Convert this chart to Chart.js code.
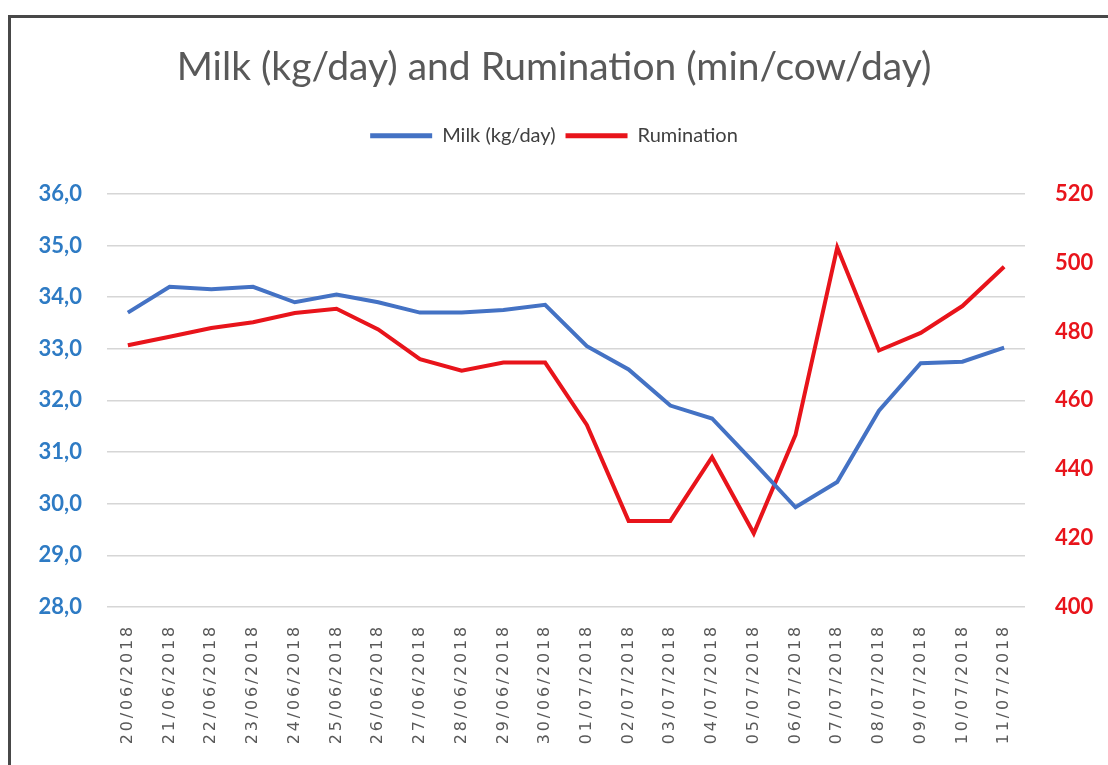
<!DOCTYPE html>
<html>
<head>
<meta charset="utf-8">
<script src="https://cdn.jsdelivr.net/npm/chart.js@4"></script>
<style>
  body { margin: 0; background: #fff; }
  #frame { position: absolute; left: 8px; top: 15px; width: 1100px; height: 750px;
           border-top: 3px solid #484848; border-left: 3px solid #484848; pointer-events: none; }
  #chart { position: absolute; left: 0; top: 0; }
</style>
</head>
<body>
<canvas id="chart" width="1108" height="765"></canvas>
<div id="frame"></div>
<script>
const dates = ['20/06/2018', '21/06/2018', '22/06/2018', '23/06/2018', '24/06/2018', '25/06/2018',
  '26/06/2018', '27/06/2018', '28/06/2018', '29/06/2018', '30/06/2018', '01/07/2018', '02/07/2018',
  '03/07/2018', '04/07/2018', '05/07/2018', '06/07/2018', '07/07/2018', '08/07/2018', '09/07/2018',
  '10/07/2018', '11/07/2018'];
const milk = [33.7, 34.2, 34.15, 34.2, 33.9, 34.05, 33.9, 33.7, 33.7, 33.75, 33.85,
  33.05, 32.6, 31.9, 31.65, 30.8, 29.93, 30.42, 31.8, 32.72, 32.75, 33.02];
const rumination = [476, 478.5, 481, 482.7, 485.4, 486.6, 480.6, 472, 468.6, 471, 471,
  452.9, 425, 425, 443.5, 421.4, 450, 504.4, 474.5, 479.6, 487.4, 498.8];

const BLUE = '#4472C4';
const RED = '#E8141B';

// give the legend extra room underneath, and letter-space the date labels
const tweaks = {
    id: 'tweaks',
    beforeInit(chart) {
        const fit = chart.legend.fit;
        chart.legend.fit = function () { fit.call(this); this.height += 38; };
    },
    afterUpdate(chart) {
        const s = chart.scales.x;
        if (s._spaced) return;
        const orig = s.drawLabels.bind(s);
        s.drawLabels = function (area) {
            this.ctx.save();
            this.ctx.letterSpacing = '2.8px';
            orig(area);
            this.ctx.restore();
        };
        s._spaced = true;
    }
};

new Chart(document.getElementById('chart'), {
    type: 'line',
    data: {
        labels: dates,
        datasets: [{
            label: 'Milk (kg/day)',
            data: milk,
            borderColor: BLUE,
            backgroundColor: BLUE,
            borderWidth: 4,
            pointRadius: 0,
            yAxisID: 'y'
        }, {
            label: 'Rumination',
            data: rumination,
            borderColor: RED,
            backgroundColor: RED,
            borderWidth: 4,
            pointRadius: 0,
            yAxisID: 'y1'
        }]
    },
    options: {
        responsive: false,
        animation: false,
        layout: { padding: 0 },
        plugins: {
            title: {
                display: true,
                text: 'Milk (kg/day) and Rumination (min/cow/day)',
                color: '#595959',
                font: { family: 'Lato', size: 39, weight: 'normal' },
                padding: { top: 44, bottom: 25 }
            },
            legend: {
                labels: {
                    color: '#404040',
                    font: { family: 'Lato', size: 20 },
                    boxWidth: 62,
                    boxHeight: 5,
                    padding: 10,
                    generateLabels: chart => Chart.defaults.plugins.legend.labels.generateLabels(chart)
                        .map(l => ({ ...l, lineWidth: 0 }))
                }
            },
            tooltip: { enabled: false }
        },
        scales: {
            x: {
                offset: true,
                grid: { display: false },
                border: { display: false },
                ticks: {
                    autoSkip: false,
                    minRotation: 90,
                    maxRotation: 90,
                    padding: 9,
                    color: '#595959',
                    font: { family: 'DejaVu Sans', size: 16 }
                },
                afterFit: s => { s.height = 158; }
            },
            y: {
                position: 'left',
                min: 28,
                max: 36,
                grid: { color: '#D6D6D6', lineWidth: 1.5, drawTicks: false },
                border: { display: false },
                ticks: {
                    stepSize: 1,
                    padding: 25,
                    color: '#2E7BC4',
                    font: { family: 'Lato', size: 22, weight: 'bold' },
                    callback: v => v.toFixed(1).replace('.', ',')
                },
                afterFit: s => { s.width = 107; }
            },
            y1: {
                position: 'right',
                min: 400,
                max: 520,
                grid: { display: false, drawTicks: false },
                border: { display: false },
                ticks: {
                    stepSize: 20,
                    padding: 30,
                    color: RED,
                    font: { family: 'Lato', size: 22, weight: 'bold' }
                },
                afterFit: s => { s.width = 83; }
            }
        }
    },
    plugins: [tweaks]
});
</script>
</body>
</html>
